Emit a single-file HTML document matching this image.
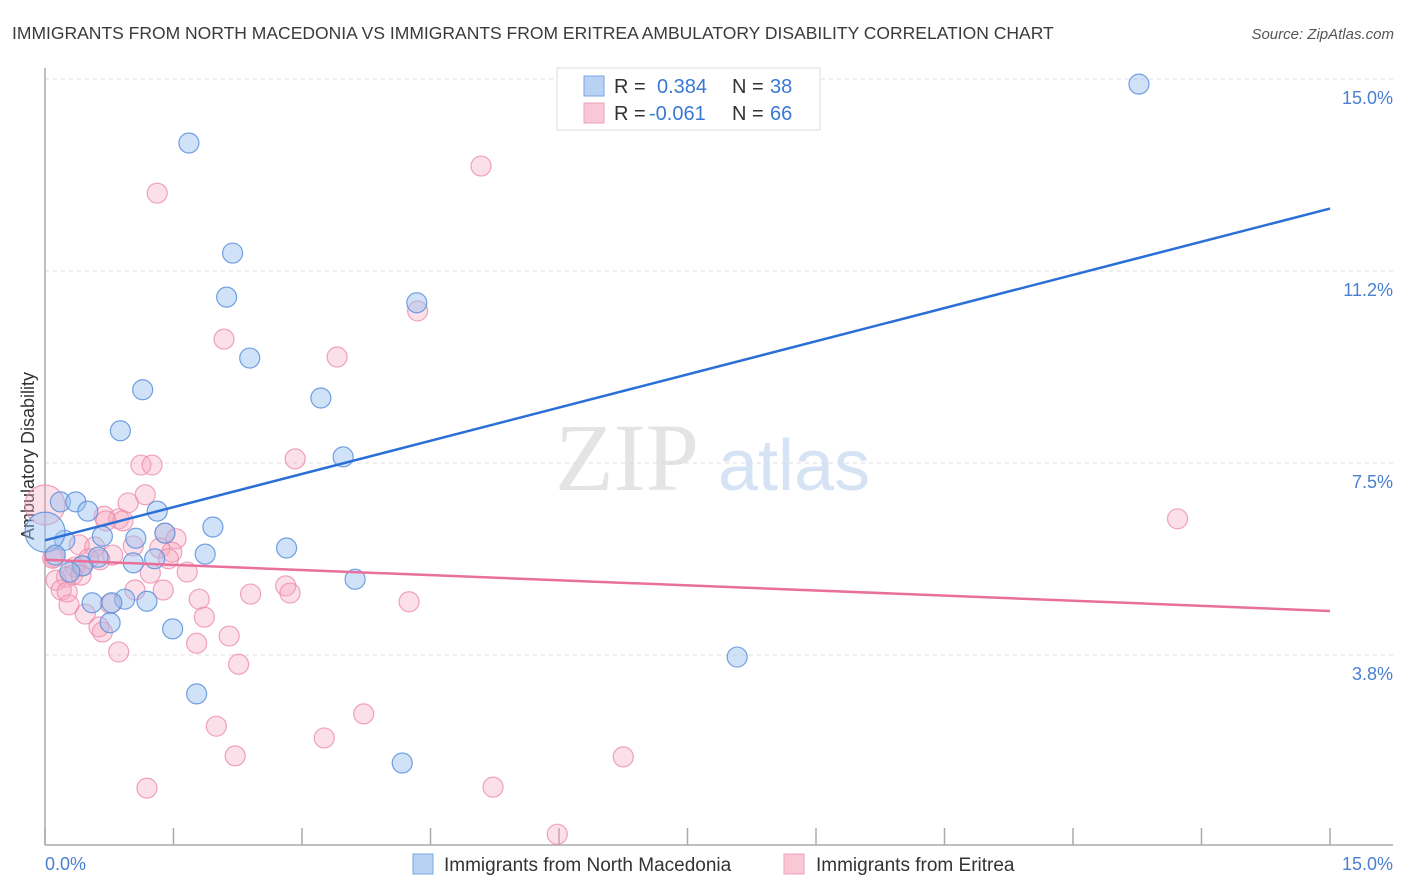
<!DOCTYPE html>
<html><head><meta charset="utf-8"><style>
body{margin:0;background:#fff;font-family:"Liberation Sans",sans-serif}
svg{display:block}
</style></head><body>
<svg id="chart" width="1406" height="892" viewBox="0 0 1406 892" xmlns="http://www.w3.org/2000/svg">
<text x="12" y="39" font-size="17.5" fill="#3a3a3a">IMMIGRANTS FROM NORTH MACEDONIA VS IMMIGRANTS FROM ERITREA AMBULATORY DISABILITY CORRELATION CHART</text>
<text x="1394" y="39" font-size="15" fill="#555" font-style="italic" text-anchor="end">Source: ZipAtlas.com</text>
<g>
<text x="555" y="490" font-size="96" fill="#e4e4e4" font-family="Liberation Serif,serif">ZIP</text>
<text x="718" y="490" font-size="72" fill="#d5e3f5">atlas</text>
</g>
<g id="grid"></g>
<line x1="45" y1="68" x2="45" y2="845" stroke="#aaa" stroke-width="1.5"/>
<line x1="45" y1="845" x2="1393" y2="845" stroke="#aaa" stroke-width="1.5"/>
<g id="xticks"></g>
<text transform="translate(34,456) rotate(-90)" font-size="18" fill="#333" text-anchor="middle">Ambulatory Disability</text>
<text x="45" y="870" font-size="18" fill="#4a80d0">0.0%</text>
<text x="1393" y="870" font-size="18" fill="#4a80d0" text-anchor="end">15.0%</text>
<g id="pinkPts"></g>
<g id="bluePts"></g>
<g id="lines"></g>
<g>
<rect x="557" y="68" width="263" height="62" fill="#fff" stroke="#ddd"/>
<rect x="584" y="76" width="20" height="20" fill="#b8d2f4" stroke="#7aa6e4"/>
<rect x="584" y="103" width="20" height="20" fill="#f8c8d6" stroke="#eea0b8"/>
<text x="614" y="93" font-size="20" fill="#333">R =</text>
<text x="657" y="93" font-size="20" fill="#3a78d4">0.384</text>
<text x="732" y="93" font-size="20" fill="#333">N =</text>
<text x="770" y="93" font-size="20" fill="#3a78d4">38</text>
<text x="614" y="120" font-size="20" fill="#333">R =</text>
<text x="649" y="120" font-size="20" fill="#3a78d4">-0.061</text>
<text x="732" y="120" font-size="20" fill="#333">N =</text>
<text x="770" y="120" font-size="20" fill="#3a78d4">66</text>
</g>
<g>
<rect x="413" y="854" width="20" height="20" fill="#b8d2f4" stroke="#7aa6e4"/>
<text x="444" y="871" font-size="19" fill="#333">Immigrants from North Macedonia</text>
<rect x="784" y="854" width="20" height="20" fill="#f8c8d6" stroke="#eea0b8"/>
<text x="816" y="871" font-size="19" fill="#333">Immigrants from Eritrea</text>
</g>
</svg>
<script>
const yTicks=[15.0,11.25,7.5,3.75];
const yTickLabels=["15.0%","11.2%","7.5%","3.8%"];
const xTicks=[0,1.5,3,4.5,6,7.5,9,10.5,12,13.5,15];
const blueX=[12.77,1.68,2.19,2.12,4.34,2.39,1.14,3.22,0.88,3.48,0.18,0.36,0.50,1.31,1.96,1.40,0.67,0.23,1.06,0,2.82,1.87,0.62,0.12,1.03,1.28,0.44,0.29,3.62,0.55,0.93,1.19,0.78,0.76,1.49,8.08,1.77,4.17];
const blueY=[14.90,13.75,11.60,10.74,10.63,9.55,8.93,8.77,8.13,7.62,6.74,6.74,6.56,6.56,6.25,6.13,6.07,5.99,6.03,6.15,5.84,5.72,5.66,5.70,5.55,5.63,5.49,5.37,5.23,4.77,4.84,4.80,4.77,4.38,4.26,3.71,2.99,1.64];
const pinkX=[5.09,1.31,4.35,2.09,3.41,2.92,1.12,1.25,1.17,0.97,13.22,0.69,0.86,0.91,0.71,0,1.40,1.53,0.40,0.58,1.03,1.34,1.48,0.79,0.11,0.51,0.64,0.09,1.44,0.43,0.35,1.23,1.66,0.32,0.25,0.42,0.13,2.81,0.19,0.26,1.38,2.86,2.40,1.05,1.80,0.28,4.25,0.76,1.86,0.47,0.63,0.67,2.15,1.77,0.86,2.26,3.72,2.00,3.26,2.22,6.75,1.19,5.23,5.98];
const pinkY=[13.30,12.77,10.47,9.92,9.57,7.58,7.46,7.46,6.88,6.72,6.41,6.46,6.41,6.37,6.37,6.68,6.13,6.02,5.90,5.86,5.88,5.84,5.76,5.70,5.66,5.63,5.61,5.64,5.63,5.49,5.47,5.35,5.37,5.31,5.27,5.31,5.21,5.10,5.02,4.98,5.02,4.96,4.94,5.02,4.84,4.73,4.79,4.75,4.49,4.55,4.30,4.20,4.12,3.98,3.81,3.57,2.60,2.36,2.13,1.78,1.76,1.15,1.17,0.25];
const blueTrend=[5.99,12.47];
const pinkTrend=[5.61,4.61];
const NS="http://www.w3.org/2000/svg";
const X=v=>45+v*(1285/15);
const Y=v=>79+(15-v)*51.2;
function mk(tag,attrs,parent){const e=document.createElementNS(NS,tag);for(const k in attrs)e.setAttribute(k,attrs[k]);parent.appendChild(e);return e;}
const grid=document.getElementById('grid');
yTicks.forEach((t,i)=>{
  const l=mk('line',{x1:45,x2:1393,y1:Y(t),y2:Y(t),stroke:'#ddd','stroke-dasharray':'4,4'},grid);
  
  
  const tx=mk('text',{x:1393,y:Y(t)+25,'font-size':18,fill:'#4a80d0','text-anchor':'end'},grid);
  tx.textContent=yTickLabels[i];
  
  
});
const xt=document.getElementById('xticks');
xTicks.forEach(t=>{
  const l=mk('line',{x1:X(t),x2:X(t),y1:828,y2:845,stroke:'#aaa','stroke-width':1.5},xt);
  
  
});
function pts(xs,ys,g,fill,stroke,name){
  xs.forEach((x,i)=>{
    const r=(x===0)?20:10;
    const c=mk('circle',{cx:X(x),cy:Y(ys[i]),r:r,fill:fill,stroke:stroke,'stroke-width':1.2},g);
    
    
  });
}
pts(pinkX,pinkY,document.getElementById('pinkPts'),'rgba(245,165,192,0.35)','rgba(236,140,170,0.8)','eritrea-point');
pts(blueX,blueY,document.getElementById('bluePts'),'rgba(150,190,240,0.45)','rgba(90,145,220,0.85)','north-macedonia-point');
const lg=document.getElementById('lines');
const bl=mk('line',{x1:X(0),y1:Y(blueTrend[0]),x2:X(15),y2:Y(blueTrend[1]),stroke:'#2a6fd6','stroke-width':2.5},lg);


const pl=mk('line',{x1:X(0),y1:Y(pinkTrend[0]),x2:X(15),y2:Y(pinkTrend[1]),stroke:'#e8709a','stroke-width':2.5},lg);


</script>
</body></html>
